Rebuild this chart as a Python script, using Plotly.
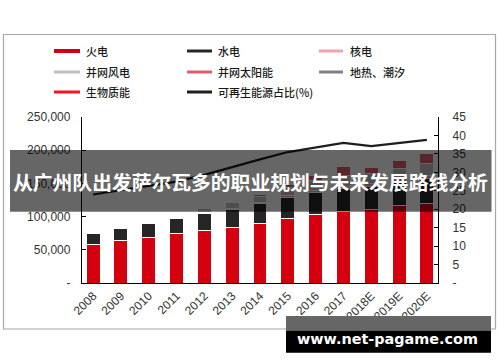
import plotly.graph_objects as go

years = ["2008", "2009", "2010", "2011", "2012", "2013", "2014", "2015", "2016", "2017", "2018E", "2019E", "2020E"]
thermal = [58300, 63300, 68800, 74800, 79800, 84300, 89900, 96800, 103500, 108400, 111000, 116000, 120000]
hydro = [16600, 19100, 21100, 23000, 25100, 27100, 29100, 31600, 33100, 34000, 35000, 36000, 37000]
nuclear = [900, 900, 1100, 1250, 1250, 1450, 2000, 2700, 3350, 3600, 4200, 4800, 5400]
wind = [600, 900, 1300, 1800, 5600, 7650, 9660, 13100, 14700, 16400, 15000, 16000, 17500]
solar = [0, 3, 26, 212, 341, 1589, 2486, 4218, 7742, 13025, 8300, 12000, 14800]
geo = [2.4, 2.4, 2.4, 2.5, 2.6, 2.7, 2.8, 2.7, 2.7, 2.7, 3, 3, 3]
bio = [300, 400, 550, 700, 800, 850, 950, 1030, 1214, 1476, 1600, 1900, 2100]
share = [24.0, 25.2, 26.3, 27.5, 29.3, 31.5, 33.5, 35.5, 36.8, 38.0, 37.1, 38.0, 38.8]

left_ticks = [0, 50000, 100000, 150000, 200000, 250000]
left_text = ["-", "50,000", "100,000", "150,000", "200,000", "250,000"]
right_ticks = [0, 5, 10, 15, 20, 25, 30, 35, 40, 45]
right_text = ["-", "5", "10", "15", "20", "25", "30", "35", "40", "45"]

names = ["火电", "水电", "核电", "并网风电", "并网太阳能", "地热、潮汐", "生物质能"]
colors = ["#D5000F", "#262626", "#F2A2AE", "#C0C0C0", "#E05A70", "#808080", "#F5141E"]
series = [thermal, hydro, nuclear, wind, solar, geo, bio]
line_name = "可再生能源占比(%)"

W_, H_ = 500, 362
L, R, T, B = 82, 438, 117, 283
PW, PH = R - L, B - T


def px(x):
    return (x - L) / PW


def py(y):
    return (B - y) / PH


fig = go.Figure()
for n, c, s in zip(names, colors, series):
    fig.add_trace(go.Bar(x=years, y=s, name=n, marker=dict(color=c, line=dict(color="white", width=1)),
                         showlegend=False))
fig.add_trace(go.Scatter(x=years, y=share, name=line_name, yaxis="y2", mode="lines",
                         line=dict(color="#1e1e1e", width=2.2), showlegend=False))

tickfont = dict(family="Liberation Sans, Arial, sans-serif", size=12, color="#333333")
cjk = "Noto Sans CJK SC, sans-serif"

shapes = []
annotations = []
# outer frame
shapes.append(dict(type="rect", xref="paper", yref="paper", x0=px(3.5), x1=px(495.5), y0=py(329), y1=py(34.5),
                   line=dict(color="#A8A8A8", width=1.2), fillcolor="rgba(0,0,0,0)", layer="below"))

# legend (drawn manually)
rows = [51, 72, 92]
cols = [(54, 80, 84), (187, 212, 216), (319, 343, 348)]
legend_items = [
    (names[0], colors[0], 4, 0, 0), (names[1], colors[1], 3, 0, 1), (names[2], colors[2], 3, 0, 2),
    (names[3], colors[3], 3, 1, 0), (names[4], colors[4], 3, 1, 1), (names[5], colors[5], 3, 1, 2),
    (names[6], colors[6], 3, 2, 0), (line_name, "#1e1e1e", 3, 2, 1),
]
for text, col, wdt, r, c in legend_items:
    x0, x1, tx = cols[c]
    yy = rows[r]
    shapes.append(dict(type="line", xref="paper", yref="paper", x0=px(x0), x1=px(x1), y0=py(yy), y1=py(yy),
                       line=dict(color=col, width=wdt)))
    annotations.append(dict(xref="paper", yref="paper", x=px(tx), y=py(yy), text=text, showarrow=False,
                            xanchor="left", yanchor="middle",
                            font=dict(family=cjk, size=11, color="#1a1a1a", weight=500)))

# banner overlay
shapes.append(dict(type="rect", xref="paper", yref="paper", x0=px(10), x1=px(491.5), y0=py(211.8), y1=py(150),
                   line=dict(width=0), fillcolor="rgba(0,0,0,0.6)", layer="above"))
annotations.append(dict(xref="paper", yref="paper", x=px(250.5), y=py(181.5),
                        text="<b>从广州队出发萨尔瓦多的职业规划与未来发展路线分析</b>", showarrow=False,
                        xanchor="center", yanchor="middle", font=dict(family=cjk, size=19.8, color="white")))

# watermark box
shapes.append(dict(type="rect", xref="paper", yref="paper", x0=px(286), x1=px(491), y0=py(330.6), y1=py(316),
                   line=dict(width=0), fillcolor="#666666", layer="above"))
shapes.append(dict(type="rect", xref="paper", yref="paper", x0=px(286), x1=px(491), y0=py(352.7), y1=py(330.6),
                   line=dict(width=0), fillcolor="#000000", layer="above"))
annotations.append(dict(xref="paper", yref="paper", x=px(387), y=py(339), text="<b>www.net-pagame.com</b>",
                        showarrow=False, xanchor="center", yanchor="middle",
                        font=dict(family="DejaVu Sans, sans-serif", size=14.4, color="white")))

fig.update_layout(
    width=W_, height=H_,
    margin=dict(l=L, r=W_ - R, t=T, b=H_ - B, pad=0),
    paper_bgcolor="white", plot_bgcolor="white",
    barmode="stack", bargap=0.5,
    xaxis=dict(type="category", range=[-0.4, 12.4], showline=True, linecolor="black", linewidth=1.3,
               ticks="", tickangle=-45, tickfont=tickfont, showgrid=False, zeroline=False),
    yaxis=dict(range=[0, 250000], tickvals=left_ticks, ticktext=left_text, showline=True, linecolor="black",
               linewidth=1.3, ticks="inside", ticklen=4, tickcolor="black", tickfont=tickfont,
               showgrid=False, zeroline=False, ticklabelstandoff=8),
    yaxis2=dict(range=[0, 45], tickvals=right_ticks, ticktext=right_text, overlaying="y", side="right",
                showline=True, linecolor="black", linewidth=1.3, ticks="inside", ticklen=4, tickcolor="black",
                tickfont=tickfont, showgrid=False, zeroline=False, ticklabelstandoff=11),
    shapes=shapes, annotations=annotations,
)

fig.write_html("out.html", config={"displayModeBar": False},
               post_script="document.body.style.margin='0';document.body.style.overflow='hidden';")
